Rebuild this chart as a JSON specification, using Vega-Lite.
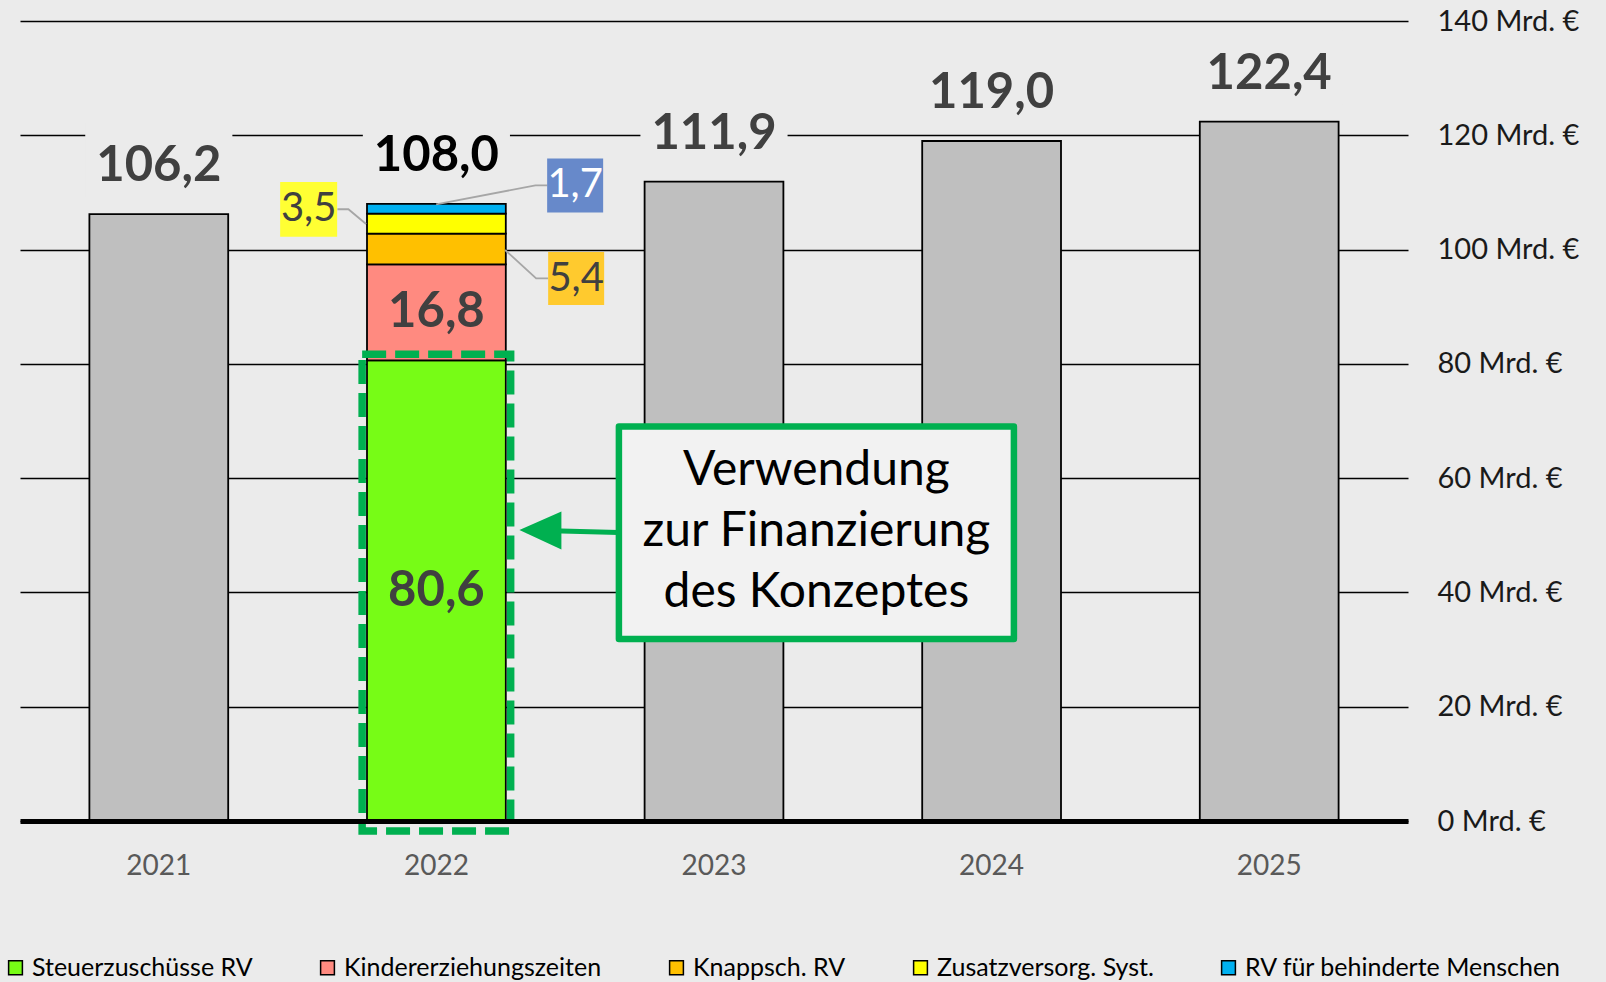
{
  "$schema": "https://vega.github.io/schema/vega-lite/v6.json",
  "autosize": "none",
  "width": 1388,
  "height": 800,
  "padding": {"left": 20, "top": 21, "right": 198, "bottom": 161},
  "background": "#EBEBEB",
  "config": {
    "view": {"stroke": null},
    "font": "Lato",
    "locale": {"number": {"decimal": ",", "thousands": ".", "grouping": [3], "currency": ["", " €"]}}
  },
  "datasets": {
    "werte": [
      {"jahr": "2021", "kategorie": "Gesamt", "wert": 106.2},
      {"jahr": "2022", "kategorie": "Steuerzuschüsse RV", "wert": 80.6},
      {"jahr": "2022", "kategorie": "Kindererziehungszeiten", "wert": 16.8},
      {"jahr": "2022", "kategorie": "Knappsch. RV", "wert": 5.4},
      {"jahr": "2022", "kategorie": "Zusatzversorg. Syst.", "wert": 3.5},
      {"jahr": "2022", "kategorie": "RV für  behinderte Menschen", "wert": 1.7},
      {"jahr": "2023", "kategorie": "Gesamt", "wert": 111.9},
      {"jahr": "2024", "kategorie": "Gesamt", "wert": 119.0},
      {"jahr": "2025", "kategorie": "Gesamt", "wert": 122.4}
    ],
    "notiz": [{"text": "Verwendung\nzur Finanzierung\ndes Konzeptes"}]
  },
  "layer": [
    {
      "data": {"name": "werte"},
      "transform": [
        {"calculate": "indexof(['Steuerzuschüsse RV','Kindererziehungszeiten','Knappsch. RV','Zusatzversorg. Syst.','RV für  behinderte Menschen','Gesamt'], datum.kategorie)", "as": "rang"},
        {"stack": "wert", "groupby": ["jahr"], "sort": [{"field": "rang", "order": "ascending"}], "as": ["y0", "y1"]},
        {"calculate": "(datum.y0 + datum.y1) / 2", "as": "ymitte"}
      ],
      "layer": [
        {
          "mark": {"type": "bar", "stroke": "black", "strokeWidth": 1.8},
          "encoding": {
            "x": {
              "field": "jahr", "type": "nominal",
              "scale": {"domain": ["2021", "2022", "2023", "2024", "2025"], "paddingInner": 0.5, "paddingOuter": 0.25},
              "axis": {
                "title": null, "orient": "bottom", "ticks": false, "tickSize": 0, "grid": false,
                "domain": true, "domainColor": "black", "domainWidth": 5, "zindex": 1,
                "labelFontSize": 28, "labelColor": "#595959", "labelPadding": 53, "labelBaseline": "alphabetic", "labelAngle": 0
              }
            },
            "y": {
              "field": "y1", "type": "quantitative",
              "scale": {"domain": [0, 140], "nice": false},
              "axis": {
                "title": null, "orient": "right", "values": [0, 20, 40, 60, 80, 100, 120, 140],
                "format": "d", "labelExpr": "datum.label + ' Mrd. €'",
                "grid": true, "gridColor": "black", "gridWidth": 1.5, "gridOpacity": 1,
                "domain": false, "ticks": false, "labelPadding": 29, "labelFontSize": 29,
                "labelColor": "#1A1A1A", "labelAlign": "left", "labelBaseline": "middle"
              }
            },
            "y2": {"field": "y0"},
            "color": {
              "field": "kategorie", "type": "nominal",
              "scale": {
                "domain": ["Steuerzuschüsse RV", "Kindererziehungszeiten", "Knappsch. RV", "Zusatzversorg. Syst.", "RV für  behinderte Menschen", "Gesamt"],
                "range": ["#77FC16", "#FF8A80", "#FFC000", "#FFFF00", "#00B0F0", "#BFBFBF"]
              },
              "legend": {
                "values": ["Steuerzuschüsse RV", "Kindererziehungszeiten", "Knappsch. RV", "Zusatzversorg. Syst.", "RV für  behinderte Menschen"],
                "orient": "none", "legendX": -17, "legendY": 934, "direction": "horizontal", "columns": 5, "padding": 0,
                "columnPadding": 62, "symbolType": "square", "symbolSize": 190,
                "symbolStrokeColor": "black", "symbolStrokeWidth": 1.5, "symbolOpacity": 1,
                "labelFontSize": 25, "labelColor": "black", "labelOffset": 4, "labelLimit": 600, "title": null
              }
            }
          }
        },
        {
          "transform": [
            {"aggregate": [{"op": "sum", "field": "wert", "as": "summe"}], "groupby": ["jahr"]},
            {"calculate": "datum.summe + 3", "as": "kasten_unten"},
            {"calculate": "datum.summe + 16", "as": "kasten_oben"}
          ],
          "layer": [
            {
              "mark": {"type": "bar", "color": "#EBEBEB", "width": {"band": 1.06}},
              "encoding": {
                "x": {"field": "jahr", "type": "nominal"},
                "y": {"field": "kasten_oben", "type": "quantitative"},
                "y2": {"field": "kasten_unten"}
              }
            },
            {
              "mark": {"type": "text", "fontSize": 49, "fontWeight": "bold", "baseline": "alphabetic", "align": "center", "yOffset": -33},
              "encoding": {
                "x": {"field": "jahr", "type": "nominal"},
                "y": {"field": "summe", "type": "quantitative"},
                "text": {"field": "summe", "type": "quantitative", "format": ".1f"},
                "color": {"condition": {"test": "datum.jahr == '2022'", "value": "black"}, "value": "#404040"}
              }
            }
          ]
        },
        {
          "transform": [{"filter": "datum.rang <= 1"}],
          "mark": {"type": "text", "fontSize": 49, "fontWeight": "bold", "baseline": "middle", "align": "center", "color": "#404040"},
          "encoding": {
            "x": {"field": "jahr", "type": "nominal"},
            "y": {"field": "ymitte", "type": "quantitative"},
            "text": {"field": "wert", "type": "quantitative", "format": ".1f"}
          }
        },
        {
          "transform": [{"filter": "datum.rang == 0"}],
          "mark": {"type": "bar", "fillOpacity": 0, "stroke": "#00B050", "strokeWidth": 7.5, "strokeDash": [24, 9], "width": {"band": 1.07}, "yOffset": -6.3, "y2Offset": 10},
          "encoding": {
            "x": {"field": "jahr", "type": "nominal"},
            "y": {"field": "y1", "type": "quantitative"},
            "y2": {"field": "y0"}
          }
        },
        {
          "transform": [{"filter": "datum.rang == 3"}],
          "layer": [
            {
              "mark": {"type": "point", "shape": "M-99,-14.3 L-88,-14.3 L-70.3,0.4", "size": 4, "filled": false, "stroke": "#A6A6A6", "strokeWidth": 1.8, "opacity": 1},
              "encoding": {"x": {"field": "jahr", "type": "nominal"}, "y": {"field": "ymitte", "type": "quantitative"}}
            },
            {
              "mark": {"type": "point", "shape": "M-28.5,-27.3 H28.5 V27.3 H-28.5 Z", "size": 4, "filled": true, "fill": "#FFFF33", "strokeWidth": 0, "opacity": 1, "xOffset": -127.75, "yOffset": -14.2},
              "encoding": {"x": {"field": "jahr", "type": "nominal"}, "y": {"field": "ymitte", "type": "quantitative"}}
            },
            {
              "mark": {"type": "text", "fontSize": 40, "baseline": "middle", "align": "center", "color": "#404040", "xOffset": -127.75, "yOffset": -14.2},
              "encoding": {"x": {"field": "jahr", "type": "nominal"}, "y": {"field": "ymitte", "type": "quantitative"}, "text": {"field": "wert", "type": "quantitative", "format": ".1f"}}
            }
          ]
        },
        {
          "transform": [{"filter": "datum.rang == 4"}],
          "layer": [
            {
              "mark": {"type": "point", "shape": "M111,-23.3 L99,-23.3 L-0.25,-4.3", "size": 4, "filled": false, "stroke": "#A6A6A6", "strokeWidth": 1.8, "opacity": 1},
              "encoding": {"x": {"field": "jahr", "type": "nominal"}, "y": {"field": "ymitte", "type": "quantitative"}}
            },
            {
              "mark": {"type": "point", "shape": "M-28,-27 H28 V27 H-28 Z", "size": 4, "filled": true, "fill": "#6789CA", "strokeWidth": 0, "opacity": 1, "xOffset": 138.75, "yOffset": -23.3},
              "encoding": {"x": {"field": "jahr", "type": "nominal"}, "y": {"field": "ymitte", "type": "quantitative"}}
            },
            {
              "mark": {"type": "text", "fontSize": 40, "baseline": "middle", "align": "center", "color": "white", "xOffset": 138.75, "yOffset": -23.3},
              "encoding": {"x": {"field": "jahr", "type": "nominal"}, "y": {"field": "ymitte", "type": "quantitative"}, "text": {"field": "wert", "type": "quantitative", "format": ".1f"}}
            }
          ]
        },
        {
          "transform": [{"filter": "datum.rang == 2"}],
          "layer": [
            {
              "mark": {"type": "point", "shape": "M111.75,29.3 L99.75,29.3 L68.75,1", "size": 4, "filled": false, "stroke": "#A6A6A6", "strokeWidth": 1.8, "opacity": 1},
              "encoding": {"x": {"field": "jahr", "type": "nominal"}, "y": {"field": "ymitte", "type": "quantitative"}}
            },
            {
              "mark": {"type": "point", "shape": "M-28,-26.5 H28 V26.5 H-28 Z", "size": 4, "filled": true, "fill": "#FFCA2E", "strokeWidth": 0, "opacity": 1, "xOffset": 139.75, "yOffset": 29.5},
              "encoding": {"x": {"field": "jahr", "type": "nominal"}, "y": {"field": "ymitte", "type": "quantitative"}}
            },
            {
              "mark": {"type": "text", "fontSize": 40, "baseline": "middle", "align": "center", "color": "#404040", "xOffset": 139.75, "yOffset": 29.5},
              "encoding": {"x": {"field": "jahr", "type": "nominal"}, "y": {"field": "ymitte", "type": "quantitative"}, "text": {"field": "wert", "type": "quantitative", "format": ".1f"}}
            }
          ]
        }
      ]
    },
    {
      "data": {"name": "notiz"},
      "layer": [
        {
          "mark": {"type": "point", "shape": "M83,-2.5 L125,-21 L125,-4 L182,-2.5 L182,2.5 L125,1 L125,17 Z", "size": 4, "filled": true, "fill": "#00B050", "strokeWidth": 0, "opacity": 1},
          "encoding": {"x": {"datum": "2022", "type": "nominal"}, "y": {"datum": 50.5, "type": "quantitative"}}
        },
        {
          "mark": {"type": "point", "shape": "M182.5,-106 H577.5 V106.5 H182.5 Z", "size": 4, "filled": true, "fill": "#F2F2F2", "stroke": "#00B050", "strokeWidth": 6.5, "strokeJoin": "round", "opacity": 1},
          "encoding": {"x": {"datum": "2022", "type": "nominal"}, "y": {"datum": 50.5, "type": "quantitative"}}
        },
        {
          "mark": {"type": "text", "fontSize": 48, "lineBreak": "\n", "lineHeight": 61, "baseline": "middle", "align": "center", "color": "black", "xOffset": 380, "yOffset": -61},
          "encoding": {"x": {"datum": "2022", "type": "nominal"}, "y": {"datum": 50.5, "type": "quantitative"}, "text": {"field": "text", "type": "nominal"}}
        }
      ]
    }
  ]
}
